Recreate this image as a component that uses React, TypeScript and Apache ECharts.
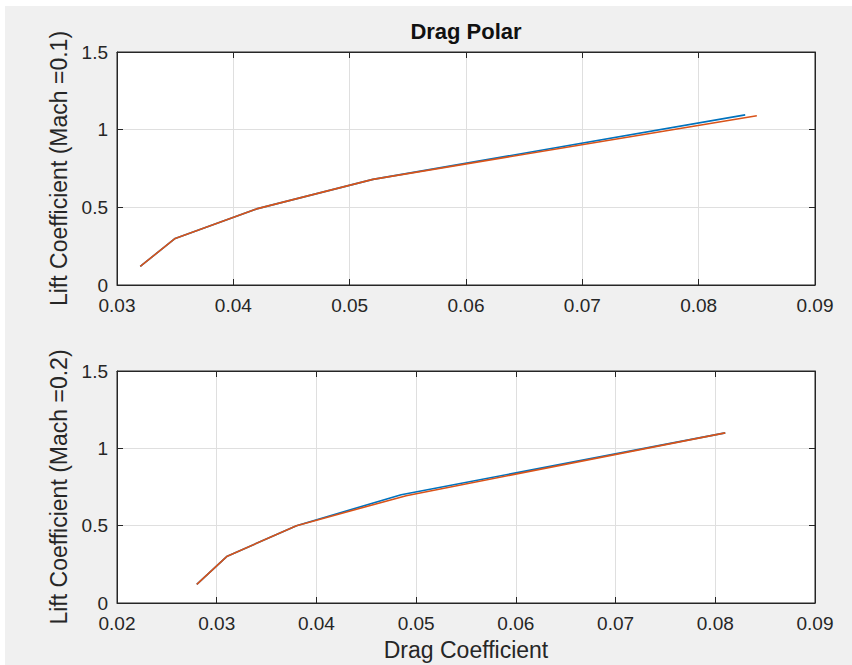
import React, { useEffect, useRef } from "react";
import * as echarts from "echarts";

// Mach 0.1
const cdMach01Blue = [0.032, 0.035, 0.042, 0.052, 0.084];
const clMach01Blue = [0.12, 0.3, 0.49, 0.68, 1.095];
const cdMach01Orange = [0.032, 0.035, 0.042, 0.052, 0.085];
const clMach01Orange = [0.12, 0.3, 0.49, 0.68, 1.09];

// Mach 0.2
const cdMach02Blue = [0.028, 0.031, 0.038, 0.0485, 0.081];
const clMach02Blue = [0.12, 0.3, 0.5, 0.7, 1.1];
const cdMach02Orange = [0.028, 0.031, 0.038, 0.049, 0.081];
const clMach02Orange = [0.12, 0.3, 0.5, 0.694, 1.1];

const titleText = "Drag Polar";
const yName1 = "Lift Coefficient (Mach =0.1)";
const yName2 = "Lift Coefficient (Mach =0.2)";
const xName = "Drag Coefficient";

const zip = (xs: number[], ys: number[]) => xs.map((x, i) => [x, ys[i]]);

const FONT = "'Liberation Sans', Arial, Helvetica, sans-serif";
const DARK = "#262626";
const BLUE = "#0072BD";
const ORANGE = "#D95319";

export default function App() {
  const ref = useRef<HTMLDivElement>(null);
  useEffect(() => {
    if (!ref.current) return;
    const chart = echarts.init(ref.current, undefined, { renderer: "svg" });
    const grids = [
      { left: 117, top: 52, width: 698, height: 233 },
      { left: 117, top: 371, width: 698, height: 232 },
    ];
    const xRanges = [
      { min: 0.03, max: 0.09 },
      { min: 0.02, max: 0.09 },
    ];
    const xAxes: any[] = [];
    const yAxes: any[] = [];
    grids.forEach((g, gi) => {
      const base = {
        type: "value",
        gridIndex: gi,
        min: xRanges[gi].min,
        max: xRanges[gi].max,
        interval: 0.01,
        axisLine: { show: true, onZero: false, lineStyle: { color: DARK, width: 1 } },
        axisTick: { show: true, inside: true, length: 6, lineStyle: { color: DARK } },
      };
      xAxes.push({
        ...base,
        position: "bottom",
        axisLabel: {
          show: true,
          color: DARK,
          fontFamily: FONT,
          fontSize: 19,
          margin: 11,
          formatter: (v: number) => v.toFixed(2),
        },
        splitLine: { show: true, lineStyle: { color: "#dfdfdf", width: 1 } },
        name: gi === 1 ? xName : "",
        nameLocation: "middle",
        nameGap: 35,
        nameTextStyle: { color: DARK, fontFamily: FONT, fontSize: 23 },
      });
      xAxes.push({
        ...base,
        position: "top",
        axisLabel: { show: false },
        splitLine: { show: false },
      });
      const ybase = {
        type: "value",
        gridIndex: gi,
        min: 0,
        max: 1.5,
        interval: 0.5,
        axisLine: { show: true, onZero: false, lineStyle: { color: DARK, width: 1 } },
        axisTick: { show: true, inside: true, length: 6, lineStyle: { color: DARK } },
      };
      yAxes.push({
        ...ybase,
        position: "left",
        axisLabel: { show: true, color: DARK, fontFamily: FONT, fontSize: 19, margin: 9 },
        splitLine: { show: true, lineStyle: { color: "#dfdfdf", width: 1 } },
        name: gi === 0 ? yName1 : yName2,
        nameLocation: "middle",
        nameGap: 45,
        nameTextStyle: { color: DARK, fontFamily: FONT, fontSize: 23 },
      });
      yAxes.push({
        ...ybase,
        position: "right",
        axisLabel: { show: false },
        splitLine: { show: false },
      });
    });
    const mkLine = (data: number[][], color: string, axisIdx: number, z: number) => ({
      type: "line",
      xAxisIndex: axisIdx,
      yAxisIndex: axisIdx,
      data,
      symbol: "none",
      showSymbol: false,
      lineStyle: { color, width: 1.6 },
      itemStyle: { color },
      z,
    });
    chart.setOption({
      animation: false,
      backgroundColor: "transparent",
      textStyle: { fontFamily: FONT },
      grid: grids.map((g) => ({
        ...g,
        show: true,
        backgroundColor: "#ffffff",
        borderColor: DARK,
        borderWidth: 1,
        containLabel: false,
      })),
      xAxis: xAxes,
      yAxis: yAxes,
      graphic: [
        {
          type: "text",
          x: 466,
          y: 31,
          style: {
            text: titleText,
            fontFamily: FONT,
            fontSize: 22,
            fontWeight: "bold",
            fill: "#111111",
            textAlign: "center",
            textVerticalAlign: "middle",
          },
        },
      ],
      series: [
        mkLine(zip(cdMach01Blue, clMach01Blue), BLUE, 0, 2),
        mkLine(zip(cdMach01Orange, clMach01Orange), ORANGE, 0, 3),
        mkLine(zip(cdMach02Blue, clMach02Blue), BLUE, 2, 2),
        mkLine(zip(cdMach02Orange, clMach02Orange), ORANGE, 2, 3),
      ],
    });
    return () => chart.dispose();
  }, []);
  return (
    <div style={{ position: "absolute", left: 0, top: 0, width: 852, height: 665, background: "#ffffff" }}>
      <div style={{ position: "absolute", left: 5, top: 6, right: 0, bottom: 0, background: "#f0f0f0" }} />
      <div ref={ref} style={{ position: "absolute", left: 0, top: 0, width: 852, height: 665 }} />
    </div>
  );
}
